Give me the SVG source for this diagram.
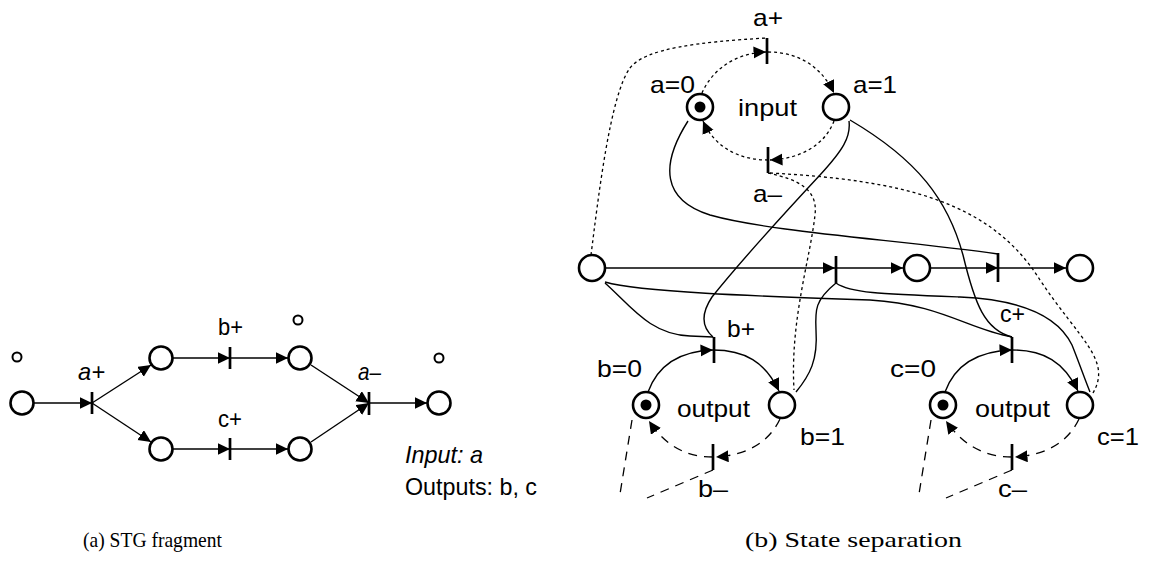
<svg xmlns="http://www.w3.org/2000/svg" width="1151" height="572" viewBox="0 0 1151 572">
  <style>
    .place { fill: #fff; stroke: #000; stroke-width: 2.6; }
    .small { fill: #fff; stroke: #000; stroke-width: 2; }
    .token { fill: #000; }
    .bar { stroke: #000; stroke-width: 2.7; fill: none; }
    .arc { stroke: #000; stroke-width: 1.4; fill: none; }
    .dot { stroke: #000; stroke-width: 1.3; fill: none; stroke-dasharray: 3 3; }
    .dash { stroke: #000; stroke-width: 1.3; fill: none; stroke-dasharray: 9 7; }
    .ah { marker-end: url(#arrow); }
    text { font-family: "Liberation Sans", Arial, sans-serif; font-size: 24px; fill: #000; }
    .it { font-style: italic; }
    .cap { font-family: "Liberation Serif", "Times New Roman", serif; font-size: 21px; }
  </style>
  <defs>
    <marker id="arrow" markerUnits="userSpaceOnUse" markerWidth="14" markerHeight="13" refX="12.5" refY="6" orient="auto">
      <path d="M0,0 L12.5,6 L0,12 Z" fill="#000"/>
    </marker>
  </defs>
  <rect width="1151" height="572" fill="#fff"/>

  <!-- (a) STG fragment: connectors -->
  <g id="stg-arcs">
    <path class="arc ah" d="M34 403 L92 403"/>
    <path class="arc ah" d="M92 403 L151 365"/>
    <path class="arc ah" d="M92 403 L151 442"/>
    <path class="arc ah" d="M173 358 L230 358"/>
    <path class="arc ah" d="M173 449 L230 449"/>
    <path class="arc ah" d="M230 358 L288 358"/>
    <path class="arc ah" d="M230 449 L288 449"/>
    <path class="arc ah" d="M311 365 L369 403"/>
    <path class="arc ah" d="M311 442 L369 403"/>
    <path class="arc ah" d="M369 403 L427 403"/>
  </g>

  <!-- (a) STG fragment: nodes -->
  <g id="stg-p0"><circle class="small" cx="17" cy="357" r="4.5"/><circle class="place" cx="22" cy="403" r="11.5"/></g>
  <g id="stg-aplus"><line class="bar" x1="92" y1="392" x2="92" y2="414"/><text class="it" x="78" y="380" textLength="27" lengthAdjust="spacingAndGlyphs">a+</text></g>
  <g id="stg-p1"><circle class="place" cx="161" cy="358" r="11.5"/></g>
  <g id="stg-p2"><circle class="place" cx="161" cy="449" r="11.5"/></g>
  <g id="stg-bplus"><line class="bar" x1="230" y1="347" x2="230" y2="369"/><text x="218" y="335" textLength="25" lengthAdjust="spacingAndGlyphs">b+</text></g>
  <g id="stg-cplus"><line class="bar" x1="230" y1="438" x2="230" y2="460"/><text x="218" y="427" textLength="24" lengthAdjust="spacingAndGlyphs">c+</text></g>
  <g id="stg-p3"><circle class="small" cx="298" cy="320" r="4.5"/><circle class="place" cx="300" cy="358" r="11.5"/></g>
  <g id="stg-p4"><circle class="place" cx="300" cy="449" r="11.5"/></g>
  <g id="stg-aminus"><line class="bar" x1="369" y1="392" x2="369" y2="415"/><text class="it" x="358" y="380" textLength="23" lengthAdjust="spacingAndGlyphs">a–</text></g>
  <g id="stg-p5"><circle class="small" cx="439" cy="358" r="4.5"/><circle class="place" cx="439" cy="403" r="11.5"/></g>
  <g id="stg-legend">
    <text class="it" x="405" y="463" textLength="78" lengthAdjust="spacingAndGlyphs">Input: a</text>
    <text x="405" y="495" textLength="132" lengthAdjust="spacingAndGlyphs">Outputs: b, c</text>
  </g>

  <!-- (b) State separation: connectors -->
  <g id="sep-arcs">
    <!-- input cycle -->
    <path class="dot ah" d="M702 93 C712 70 735 53 766 52"/>
    <path class="dot ah" d="M768 52 C800 52 822 68 834 93"/>
    <path class="dot ah" d="M834 121 C825 145 800 159 770 160"/>
    <path class="dot ah" d="M768 160 C740 160 715 148 703 121"/>
    <!-- dotted links -->
    <path class="dot" d="M591 255 C598 200 610 95 630 68 C645 48 700 42 766 38"/>
    <path class="dot" d="M768 173 C800 180 818 190 815 215 C810 260 790 320 794 390"/>
    <path class="dot" d="M770 173 C900 180 990 200 1040 280 C1080 340 1112 360 1093 393"/>
    <!-- middle row -->
    <path class="arc ah" d="M605 268 L835 268"/>
    <path class="arc ah" d="M835 268 L903 268"/>
    <path class="arc ah" d="M931 268 L998 268"/>
    <path class="arc ah" d="M998 268 L1066 268"/>
    <!-- solid links -->
    <path class="arc" d="M688 121 C660 165 662 200 710 215 C770 232 900 240 998 254"/>
    <path class="arc" d="M849 121 C851 137 843 150 820 175 C780 218 740 262 712 297 C698 318 705 330 713 337"/>
    <path class="arc" d="M850 120 C918 160 948 200 963 255 C975 305 985 330 1012 337"/>
    <path class="arc" d="M605 283 C630 305 650 335 690 336 L713 337"/>
    <path class="arc" d="M605 282 C640 292 750 296 870 300 C940 304 970 330 1012 337"/>
    <path class="arc" d="M836 283 C850 293 880 294 960 297 C1030 300 1060 320 1072 345 C1080 365 1085 380 1090 392"/>
    <path class="arc" d="M836 283 C815 300 815 310 816 330 C818 360 810 375 796 392"/>
    <!-- output b cycle -->
    <path class="arc ah" d="M648 392 C658 365 680 351 713 350"/>
    <path class="arc ah" d="M713 350 C745 350 765 362 779 391"/>
    <path class="dash ah" d="M780 419 C770 440 750 455 716 457"/>
    <path class="dash ah" d="M713 457 C685 457 665 445 649 421"/>
    <path class="dash" d="M632 420 L620 494"/>
    <path class="dash" d="M713 470 L647 498"/>
    <!-- output c cycle -->
    <path class="arc ah" d="M945 392 C955 365 978 351 1012 350"/>
    <path class="arc ah" d="M1012 350 C1044 350 1064 362 1078 391"/>
    <path class="dash ah" d="M1079 419 C1069 440 1049 455 1015 457"/>
    <path class="dash ah" d="M1012 457 C984 457 963 445 946 421"/>
    <path class="dash" d="M931 420 L919 494"/>
    <path class="dash" d="M1012 470 L946 498"/>
  </g>

  <!-- (b) State separation: nodes -->
  <g id="sep-aplus"><line class="bar" x1="767" y1="38" x2="767" y2="64"/><text x="753" y="26" textLength="30" lengthAdjust="spacingAndGlyphs">a+</text></g>
  <g id="sep-a0"><circle class="place" cx="700" cy="107" r="13"/><circle class="token" cx="700" cy="107" r="5.5"/><text x="650" y="93" textLength="45" lengthAdjust="spacingAndGlyphs">a=0</text></g>
  <g id="sep-a1"><circle class="place" cx="836" cy="107" r="13"/><text x="853" y="93" textLength="44" lengthAdjust="spacingAndGlyphs">a=1</text></g>
  <g id="sep-input-label"><text x="738" y="116" textLength="59" lengthAdjust="spacingAndGlyphs">input</text></g>
  <g id="sep-aminus"><line class="bar" x1="768" y1="147" x2="768" y2="173"/><text x="753" y="202" textLength="29" lengthAdjust="spacingAndGlyphs">a–</text></g>
  <g id="sep-p"><circle class="place" cx="592" cy="268" r="13"/></g>
  <g id="sep-t1"><line class="bar" x1="836" y1="256" x2="836" y2="283"/></g>
  <g id="sep-p2"><circle class="place" cx="917" cy="268" r="13"/></g>
  <g id="sep-t2"><line class="bar" x1="998" y1="253" x2="998" y2="282"/></g>
  <g id="sep-p3"><circle class="place" cx="1080" cy="268" r="13"/></g>
  <g id="sep-bplus"><line class="bar" x1="714" y1="337" x2="714" y2="363"/><text x="727" y="337" textLength="28" lengthAdjust="spacingAndGlyphs">b+</text></g>
  <g id="sep-b0"><circle class="place" cx="646" cy="405" r="13"/><circle class="token" cx="646" cy="405" r="5.5"/><text x="597" y="377" textLength="45" lengthAdjust="spacingAndGlyphs">b=0</text></g>
  <g id="sep-b1"><circle class="place" cx="782" cy="405" r="13"/><text x="800" y="445" textLength="45" lengthAdjust="spacingAndGlyphs">b=1</text></g>
  <g id="sep-b-label"><text x="677" y="417" textLength="73" lengthAdjust="spacingAndGlyphs">output</text></g>
  <g id="sep-bminus"><line class="bar" x1="713" y1="444" x2="713" y2="470"/><text x="698" y="497" textLength="30" lengthAdjust="spacingAndGlyphs">b–</text></g>
  <g id="sep-cplus"><line class="bar" x1="1012" y1="337" x2="1012" y2="363"/><text x="1000" y="322" textLength="25" lengthAdjust="spacingAndGlyphs">c+</text></g>
  <g id="sep-c0"><circle class="place" cx="943" cy="405" r="13"/><circle class="token" cx="943" cy="405" r="5.5"/><text x="890" y="377" textLength="46" lengthAdjust="spacingAndGlyphs">c=0</text></g>
  <g id="sep-c1"><circle class="place" cx="1080" cy="405" r="13"/><text x="1097" y="445" textLength="42" lengthAdjust="spacingAndGlyphs">c=1</text></g>
  <g id="sep-c-label"><text x="975" y="417" textLength="75" lengthAdjust="spacingAndGlyphs">output</text></g>
  <g id="sep-cminus"><line class="bar" x1="1012" y1="444" x2="1012" y2="470"/><text x="998" y="497" textLength="29" lengthAdjust="spacingAndGlyphs">c–</text></g>

  <!-- captions -->
  <g id="captions">
    <text class="cap" x="83" y="547" textLength="139" lengthAdjust="spacingAndGlyphs">(a) STG fragment</text>
    <text class="cap" x="745" y="547" textLength="217" lengthAdjust="spacingAndGlyphs">(b) State separation</text>
  </g>
</svg>
